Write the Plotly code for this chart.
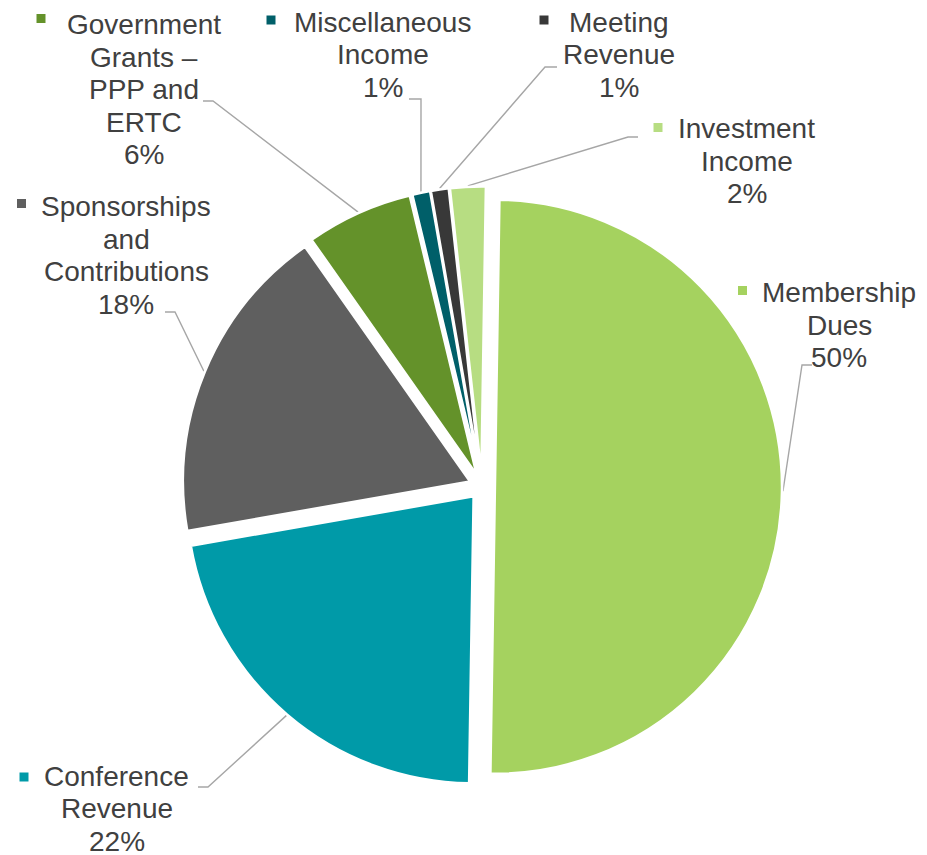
import math
import plotly.graph_objects as go

W, H = 927, 855

# ---- data ----
categories = ["Membership Dues", "Conference Revenue", "Sponsorships and Contributions",
              "Government Grants – PPP and ERTC", "Miscellaneous Income",
              "Meeting Revenue", "Investment Income"]
values = [50, 22, 18, 6, 1, 1, 2]
label_lines = [["Membership", "Dues"], ["Conference", "Revenue"],
               ["Sponsorships", "and", "Contributions"],
               ["Government", "Grants –", "PPP and", "ERTC"],
               ["Miscellaneous", "Income"], ["Meeting", "Revenue"],
               ["Investment", "Income"]]
colors = ["#A5D25F", "#009AA8", "#5F5F5F", "#64922A", "#005F69", "#383838", "#B7DD82"]

# ---- layout (pixel positions) ----
ROT = 0.9
PULL = 0.045
cx_px, cy_px, box = 482, 486.5, 600
dom_x = [(cx_px - box / 2) / W, (cx_px + box / 2) / W]
dom_y = [1 - (cy_px + box / 2) / H, 1 - (cy_px - box / 2) / H]
R = box / 2 / (1 + PULL)

label_pos = [(839, 292.5), (116.5, 776), (126, 206.5), (144, 24.5),
             (382.5, 22), (619, 22), (746.5, 128.5)]
LINE_GAP = 32.5
key_pos = [(742.5, 290.5), (24, 777), (21.5, 203.5), (41, 18.5),
           (271, 20), (544, 20), (658, 127.5)]
leader_start = [(812, 365), (198, 787), (165, 312), (203, 101), (409, 99), (557, 67), (638, 137)]
leader_elbow = [(802, 365), (208, 787), (175, 312), (213, 101), (421, 99), (545, 67), (628, 137)]

TEXT_COLOR = "#404040"
FONT = "Liberation Sans, Arial, sans-serif"
FS = 28

fig = go.Figure()

# leader lines (slice end computed from data)
total = sum(values)
cum = 0
lx, ly = [], []
for i, v in enumerate(values):
    mid = math.radians(ROT + 360 * (cum + v / 2) / total)
    cum += v
    ox, oy = PULL * R * math.sin(mid), -PULL * R * math.cos(mid)
    ex = cx_px + ox + (R + 1) * math.sin(mid)
    ey = cy_px + oy - (R + 1) * math.cos(mid)
    lx += [leader_start[i][0], leader_elbow[i][0], ex, None]
    ly += [leader_start[i][1], leader_elbow[i][1], ey, None]

fig.add_trace(go.Scatter(x=lx, y=ly, mode="lines", line=dict(color="#A6A6A6", width=1.4),
                         hoverinfo="skip", showlegend=False))

# legend keys
fig.add_trace(go.Scatter(x=[p[0] for p in key_pos], y=[p[1] for p in key_pos], mode="markers",
                         marker=dict(symbol="square", size=9, color=colors, line=dict(width=0)),
                         hoverinfo="skip", showlegend=False))

fig.add_trace(go.Pie(
    labels=categories, values=values, sort=False, direction="clockwise",
    rotation=ROT, pull=PULL, textinfo="none", hoverinfo="label+percent",
    marker=dict(colors=colors, line=dict(color="white", width=2.5)),
    domain=dict(x=dom_x, y=dom_y), showlegend=False,
))

annotations = []
for i, v in enumerate(values):
    lines = label_lines[i] + [f"{round(v / total * 100)}%"]
    x0, y0 = label_pos[i]
    for j, t in enumerate(lines):
        annotations.append(dict(x=x0, y=y0 + j * LINE_GAP, xref="x", yref="y", text=t,
                                showarrow=False, xanchor="center", yanchor="middle",
                                font=dict(size=FS, color=TEXT_COLOR, family=FONT)))

fig.update_layout(
    width=W, height=H, margin=dict(l=0, r=0, t=0, b=0),
    paper_bgcolor="white", plot_bgcolor="white",
    xaxis=dict(range=[0, W], visible=False, fixedrange=True),
    yaxis=dict(range=[H, 0], visible=False, fixedrange=True),
    annotations=annotations,
)

fig.write_html("out.html", config={"displayModeBar": False},
               post_script="document.body.style.margin='0';")
